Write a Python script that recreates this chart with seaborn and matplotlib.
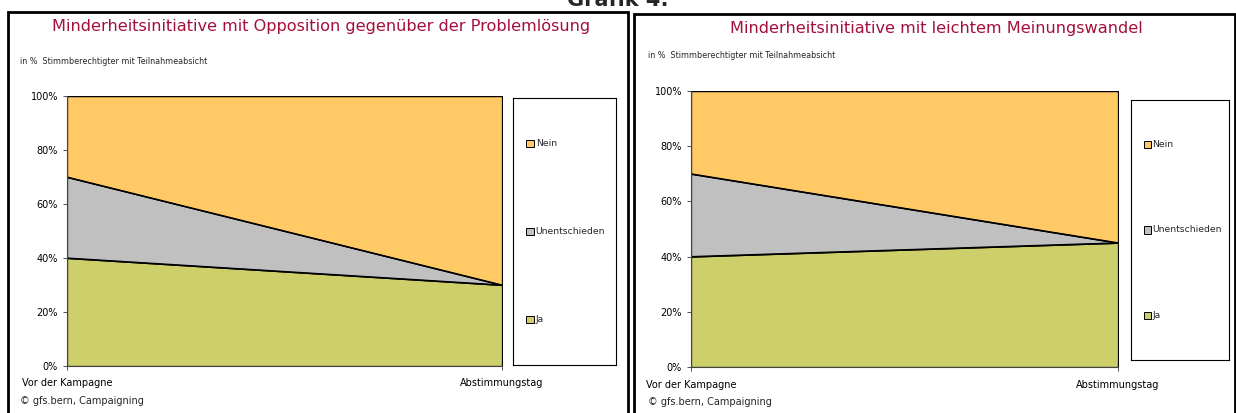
import numpy as np
import pandas as pd
import matplotlib
matplotlib.use('Agg')
import matplotlib.pyplot as plt
from matplotlib.patches import Rectangle
import seaborn as sns

sns.set_theme(style='white')
plt.rcParams['font.family'] = ['DejaVu Sans']

# data (percent of voters intending to participate)
zeitpunkte = ['Vor der Kampagne', 'Abstimmungstag']
kategorien = ['Ja', 'Unentschieden', 'Nein']
titel_links = 'Minderheitsinitiative mit Opposition gegenüber der Problemlösung'
ja_links = [40, 30]
unent_links = [30, 0]
nein_links = [30, 70]
titel_rechts = 'Minderheitsinitiative mit leichtem Meinungswandel'
ja_rechts = [40, 45]
unent_rechts = [30, 0]
nein_rechts = [30, 55]

farben = {'Ja': '#cccf6a', 'Unentschieden': '#c0c0c0', 'Nein': '#ffc966'}
titel_farbe = '#a50f3c'


def draw_panel(ax, leg_ax, ja, unent, nein):
    df = pd.DataFrame({'Zeit': [0, 1], 'Ja': ja, 'Unentschieden': unent, 'Nein': nein})
    ax.stackplot(df['Zeit'], df['Ja'], df['Unentschieden'], df['Nein'],
                 colors=[farben[k] for k in kategorien],
                 edgecolor='black', linewidth=0.9)
    # boundary lines
    cum = df[kategorien].cumsum(axis=1)
    for k in kategorien:
        sns.lineplot(x=df['Zeit'], y=cum[k], ax=ax, color='black', linewidth=0.9)
    ax.set_xlim(0, 1)
    ax.set_ylim(0, 100)
    ax.set_xticks([0, 1])
    ax.set_xticklabels(zeitpunkte)
    ax.set_yticks(range(0, 101, 20))
    ax.set_yticklabels(['{}%'.format(v) for v in range(0, 101, 20)])
    ax.tick_params(axis='both', labelsize=7, length=3, width=0.6, colors='#333333',
                   left=True, bottom=True, labelcolor='black')
    ax.tick_params(axis='x', pad=6)
    ax.set_xlabel('')
    ax.set_ylabel('')
    for s in ['top', 'right']:
        ax.spines[s].set_visible(False)
    for s in ['left', 'bottom']:
        ax.spines[s].set_color('#444444')
        ax.spines[s].set_linewidth(0.8)

    # legend box
    leg_ax.set_xlim(0, 1)
    leg_ax.set_ylim(0, 1)
    leg_ax.set_xticks([])
    leg_ax.set_yticks([])
    for s in leg_ax.spines.values():
        s.set_color('black')
        s.set_linewidth(0.8)
    for k, yy in zip(['Nein', 'Unentschieden', 'Ja'], [0.83, 0.5, 0.17]):
        leg_ax.add_patch(Rectangle((0.13, yy - 0.014), 0.075, 0.028,
                                   facecolor=farben[k], edgecolor='black', linewidth=0.7))
        leg_ax.text(0.22, yy, k, fontsize=6.7, va='center', ha='left')


fig = plt.figure(figsize=(12.36, 4.13), dpi=100)
fig.patch.set_facecolor('white')

# panel frames
fig.patches.append(Rectangle((8 / 1236, -0.01), 620 / 1236, 1 - 12 / 413 + 0.01,
                             transform=fig.transFigure, fill=False,
                             edgecolor='black', linewidth=2))
fig.patches.append(Rectangle((634 / 1236, -0.01), 601 / 1236, 1 - 14 / 413 + 0.01,
                             transform=fig.transFigure, fill=False,
                             edgecolor='black', linewidth=2))

fig.text(0.5, 1.0, 'Grafik 4:', fontsize=15, fontweight='bold', ha='center', va='center')

ax1 = fig.add_axes([67 / 1236, 47 / 413, 435 / 1236, 270 / 413])
leg1 = fig.add_axes([513 / 1236, 48 / 413, 103 / 1236, 267 / 413])
ax2 = fig.add_axes([691 / 1236, 46 / 413, 427 / 1236, 276 / 413])
leg2 = fig.add_axes([1131 / 1236, 53 / 413, 98 / 1236, 260 / 413])

draw_panel(ax1, leg1, ja_links, unent_links, nein_links)
draw_panel(ax2, leg2, ja_rechts, unent_rechts, nein_rechts)

fig.text(321 / 1236, 1 - 26 / 413, titel_links, fontsize=11.6, color=titel_farbe,
         ha='center', va='center')
fig.text(936 / 1236, 1 - 28 / 413, titel_rechts, fontsize=11.6, color=titel_farbe,
         ha='center', va='center')
for x0, y0 in [(20, 62), (648, 56)]:
    fig.text(x0 / 1236, 1 - y0 / 413, 'in %  Stimmberechtigter mit Teilnahmeabsicht',
             fontsize=5.8, ha='left', va='center')
for x0, y0 in [(20, 401), (648, 402)]:
    fig.text(x0 / 1236, 1 - y0 / 413, '© gfs.bern, Campaigning',
             fontsize=7, ha='left', va='center')

fig.savefig('out.png', dpi=100)
